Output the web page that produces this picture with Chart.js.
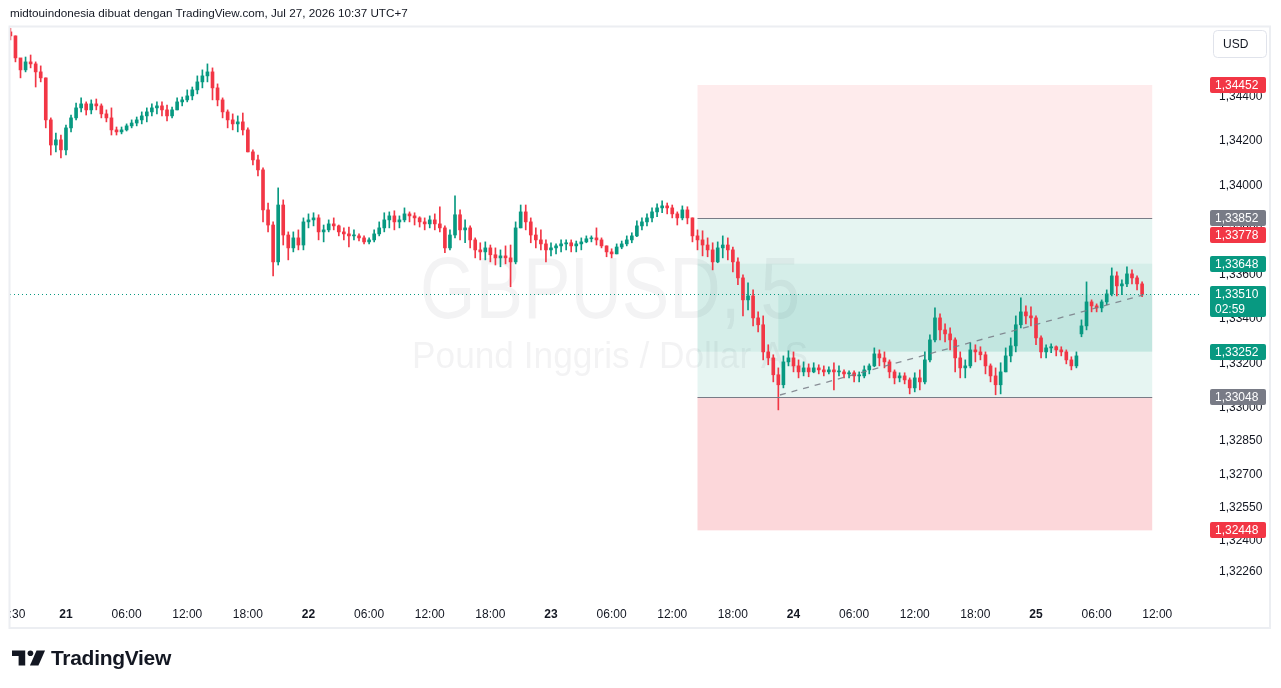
<!DOCTYPE html>
<html>
<head>
<meta charset="utf-8">
<script src="https://cdn.jsdelivr.net/npm/chart.js@4.4.1/dist/chart.umd.min.js"></script>
<style>
html,body{margin:0;padding:0;background:#fff;width:1281px;height:688px;overflow:hidden;font-family:'Liberation Sans',Arial,sans-serif;}
#wrap{position:absolute;left:0;top:0;width:1281px;height:688px;}
#header{position:absolute;left:10px;top:6px;font-size:11.7px;color:#131722;white-space:nowrap;}
#logo{position:absolute;left:12px;top:647px;display:flex;align-items:center;height:22px;}
#logo span{font-weight:bold;font-size:21px;color:#131722;margin-left:5px;letter-spacing:-0.3px;}
</style>
</head>
<body>
<div id="wrap"><canvas id="c" width="1281" height="688"></canvas></div>
<div id="header">midtouindonesia dibuat dengan TradingView.com, Jul 27, 2026 10:37 UTC+7</div>
<div id="logo"><svg width="34" height="16" viewBox="0 0 36 16"><path d="M0 0H14V16H7V6H0Z" fill="#131722"/><circle cx="19.5" cy="3" r="3" fill="#131722"/><path d="M26 0H35L28 16H19Z" fill="#131722"/></svg><span>TradingView</span></div>
<script>
// ---- data: GBPUSD, 30-minute candles (hours from 21 Jul 00:00) ----
const firstCandleHour = -5.5;
const candleStepHours = 0.5;

const opens = [1.34691,1.34673,1.34574,1.34520,1.34556,1.34547,1.34511,1.34484,1.34295,1.34182,
1.34205,1.34160,1.34259,1.34304,1.34349,1.34367,1.34340,1.34367,1.34358,1.34322,
1.34304,1.34250,1.34241,1.34250,1.34268,1.34281,1.34295,1.34313,1.34331,1.34349,
1.34358,1.34340,1.34313,1.34340,1.34376,1.34385,1.34403,1.34430,1.34466,1.34493,
1.34511,1.34439,1.34385,1.34331,1.34295,1.34277,1.34286,1.34250,1.34151,1.34115,
1.34070,1.33890,1.33822,1.33656,1.33912,1.33777,1.33719,1.33764,1.33732,1.33836,
1.33845,1.33854,1.33791,1.33800,1.33827,1.33818,1.33791,1.33782,1.33773,1.33773,
1.33764,1.33746,1.33755,1.33782,1.33809,1.33845,1.33863,1.33836,1.33845,1.33872,
1.33863,1.33854,1.33836,1.33827,1.33845,1.33827,1.33809,1.33719,1.33777,1.33868,
1.33800,1.33809,1.33755,1.33710,1.33701,1.33719,1.33688,1.33674,1.33683,1.33674,
1.33656,1.33809,1.33881,1.33836,1.33777,1.33755,1.33737,1.33710,1.33719,1.33728,
1.33737,1.33742,1.33728,1.33737,1.33746,1.33760,1.33764,1.33755,1.33728,1.33701,
1.33692,1.33723,1.33737,1.33755,1.33773,1.33818,1.33836,1.33854,1.33881,1.33899,
1.33908,1.33899,1.33872,1.33854,1.33890,1.33854,1.33773,1.33755,1.33732,1.33710,
1.33656,1.33719,1.33732,1.33710,1.33656,1.33584,1.33485,1.33503,1.33404,1.33373,
1.33251,1.33224,1.33148,1.33103,1.33206,1.33224,1.33188,1.33161,1.33179,1.33161,
1.33179,1.33170,1.33161,1.33170,1.33161,1.33161,1.33152,1.33157,1.33143,1.33143,
1.33170,1.33188,1.33242,1.33224,1.33206,1.33161,1.33134,1.33143,1.33125,1.33089,
1.33134,1.33116,1.33215,1.33305,1.33404,1.33350,1.33332,1.33305,1.33224,1.33179,
1.33188,1.33260,1.33251,1.33238,1.33188,1.33143,1.33103,1.33161,1.33233,1.33278,
1.33373,1.33431,1.33413,1.33404,1.33314,1.33251,1.33269,1.33274,1.33260,1.33251,
1.33215,1.33188,1.33332,1.33368,1.33476,1.33458,1.33449,1.33476,1.33512,1.33593,
1.33548,1.33557,1.33602,1.33584,1.33557];

const highs = [1.34709,1.34673,1.34565,1.34578,1.34587,1.34556,1.34538,1.34484,1.34304,1.34236,
1.34227,1.34272,1.34317,1.34371,1.34394,1.34376,1.34385,1.34389,1.34367,1.34340,
1.34349,1.34263,1.34263,1.34277,1.34295,1.34308,1.34331,1.34349,1.34367,1.34376,
1.34376,1.34362,1.34353,1.34394,1.34398,1.34430,1.34443,1.34493,1.34520,1.34547,
1.34529,1.34457,1.34394,1.34340,1.34322,1.34313,1.34326,1.34259,1.34160,1.34137,
1.34079,1.33921,1.33836,1.33989,1.33935,1.33791,1.33791,1.33800,1.33854,1.33872,
1.33877,1.33868,1.33822,1.33845,1.33854,1.33822,1.33809,1.33813,1.33800,1.33782,
1.33773,1.33764,1.33800,1.33836,1.33877,1.33881,1.33886,1.33863,1.33899,1.33881,
1.33877,1.33859,1.33854,1.33863,1.33872,1.33904,1.33818,1.33800,1.33953,1.33890,
1.33845,1.33818,1.33764,1.33742,1.33746,1.33732,1.33719,1.33710,1.33728,1.33732,
1.33836,1.33912,1.33912,1.33854,1.33809,1.33800,1.33755,1.33742,1.33737,1.33755,
1.33755,1.33755,1.33750,1.33764,1.33773,1.33773,1.33809,1.33764,1.33728,1.33715,
1.33737,1.33750,1.33773,1.33787,1.33841,1.33854,1.33872,1.33899,1.33917,1.33931,
1.33921,1.33912,1.33881,1.33908,1.33904,1.33854,1.33800,1.33796,1.33764,1.33742,
1.33746,1.33773,1.33764,1.33723,1.33674,1.33598,1.33562,1.33530,1.33431,1.33413,
1.33283,1.33238,1.33179,1.33233,1.33256,1.33251,1.33215,1.33206,1.33197,1.33202,
1.33193,1.33188,1.33184,1.33202,1.33188,1.33170,1.33166,1.33166,1.33161,1.33188,
1.33197,1.33269,1.33260,1.33251,1.33215,1.33170,1.33157,1.33157,1.33134,1.33157,
1.33170,1.33251,1.33328,1.33449,1.33422,1.33377,1.33359,1.33314,1.33251,1.33215,
1.33292,1.33283,1.33274,1.33251,1.33197,1.33179,1.33202,1.33269,1.33314,1.33413,
1.33494,1.33458,1.33454,1.33413,1.33323,1.33283,1.33287,1.33278,1.33274,1.33260,
1.33229,1.33251,1.33395,1.33566,1.33485,1.33467,1.33485,1.33530,1.33629,1.33611,
1.33575,1.33634,1.33620,1.33593,1.33566];

const lows = [1.34655,1.34556,1.34484,1.34511,1.34529,1.34443,1.34466,1.34259,1.34137,1.34151,
1.34124,1.34137,1.34241,1.34295,1.34331,1.34317,1.34322,1.34340,1.34304,1.34286,
1.34227,1.34227,1.34232,1.34245,1.34259,1.34268,1.34277,1.34286,1.34313,1.34322,
1.34313,1.34290,1.34304,1.34340,1.34358,1.34376,1.34385,1.34412,1.34439,1.34466,
1.34385,1.34358,1.34304,1.34259,1.34250,1.34241,1.34227,1.34151,1.34092,1.34043,
1.33836,1.33791,1.33593,1.33642,1.33732,1.33665,1.33701,1.33710,1.33710,1.33809,
1.33818,1.33755,1.33746,1.33791,1.33800,1.33773,1.33755,1.33723,1.33755,1.33750,
1.33737,1.33737,1.33746,1.33773,1.33791,1.33809,1.33800,1.33809,1.33836,1.33836,
1.33822,1.33813,1.33800,1.33809,1.33800,1.33791,1.33697,1.33710,1.33764,1.33755,
1.33742,1.33719,1.33674,1.33665,1.33665,1.33656,1.33642,1.33634,1.33647,1.33544,
1.33647,1.33809,1.33800,1.33742,1.33719,1.33710,1.33656,1.33683,1.33692,1.33701,
1.33710,1.33701,1.33701,1.33710,1.33742,1.33746,1.33732,1.33719,1.33679,1.33674,
1.33692,1.33715,1.33728,1.33742,1.33769,1.33800,1.33818,1.33836,1.33859,1.33877,
1.33872,1.33854,1.33822,1.33845,1.33827,1.33746,1.33710,1.33683,1.33679,1.33620,
1.33652,1.33674,1.33665,1.33611,1.33553,1.33413,1.33440,1.33368,1.33341,1.33215,
1.33193,1.33116,1.32990,1.33089,1.33188,1.33161,1.33134,1.33143,1.33139,1.33157,
1.33152,1.33143,1.33152,1.33080,1.33143,1.33134,1.33134,1.33116,1.33116,1.33134,
1.33152,1.33184,1.33188,1.33179,1.33134,1.33107,1.33116,1.33107,1.33062,1.33071,
1.33080,1.33107,1.33206,1.33296,1.33305,1.33296,1.33260,1.33161,1.33134,1.33134,
1.33179,1.33206,1.33215,1.33152,1.33116,1.33058,1.33062,1.33161,1.33206,1.33251,
1.33359,1.33377,1.33368,1.33283,1.33224,1.33224,1.33247,1.33233,1.33233,1.33197,
1.33170,1.33179,1.33319,1.33350,1.33431,1.33431,1.33431,1.33463,1.33503,1.33503,
1.33508,1.33544,1.33557,1.33530,1.33499];

const closes = [1.34673,1.34574,1.34520,1.34556,1.34547,1.34511,1.34484,1.34295,1.34182,1.34205,
1.34160,1.34259,1.34304,1.34349,1.34367,1.34340,1.34367,1.34358,1.34322,1.34304,
1.34250,1.34241,1.34250,1.34268,1.34281,1.34295,1.34313,1.34331,1.34349,1.34358,
1.34340,1.34313,1.34340,1.34376,1.34385,1.34403,1.34430,1.34466,1.34493,1.34511,
1.34439,1.34385,1.34331,1.34295,1.34277,1.34286,1.34250,1.34151,1.34115,1.34070,
1.33890,1.33822,1.33656,1.33912,1.33777,1.33719,1.33764,1.33732,1.33836,1.33845,
1.33854,1.33791,1.33800,1.33827,1.33818,1.33791,1.33782,1.33773,1.33773,1.33764,
1.33746,1.33755,1.33782,1.33809,1.33845,1.33863,1.33836,1.33845,1.33872,1.33863,
1.33854,1.33836,1.33827,1.33845,1.33827,1.33809,1.33719,1.33777,1.33868,1.33800,
1.33809,1.33755,1.33710,1.33701,1.33719,1.33688,1.33674,1.33683,1.33674,1.33656,
1.33809,1.33881,1.33836,1.33777,1.33755,1.33737,1.33710,1.33719,1.33728,1.33737,
1.33742,1.33728,1.33737,1.33746,1.33760,1.33764,1.33755,1.33728,1.33701,1.33692,
1.33723,1.33737,1.33755,1.33773,1.33818,1.33836,1.33854,1.33881,1.33899,1.33908,
1.33899,1.33872,1.33854,1.33890,1.33854,1.33773,1.33755,1.33732,1.33710,1.33656,
1.33719,1.33732,1.33710,1.33656,1.33584,1.33485,1.33503,1.33404,1.33373,1.33251,
1.33224,1.33148,1.33103,1.33206,1.33224,1.33188,1.33161,1.33179,1.33161,1.33179,
1.33170,1.33161,1.33170,1.33161,1.33161,1.33152,1.33157,1.33143,1.33143,1.33170,
1.33188,1.33242,1.33224,1.33206,1.33161,1.33134,1.33143,1.33125,1.33089,1.33134,
1.33116,1.33215,1.33305,1.33404,1.33350,1.33332,1.33305,1.33224,1.33179,1.33188,
1.33260,1.33251,1.33238,1.33188,1.33143,1.33103,1.33161,1.33233,1.33278,1.33373,
1.33431,1.33413,1.33404,1.33314,1.33251,1.33269,1.33274,1.33260,1.33251,1.33215,
1.33188,1.33233,1.33368,1.33476,1.33458,1.33449,1.33476,1.33512,1.33593,1.33548,
1.33557,1.33602,1.33584,1.33557,1.33510];

// price axis ticks (TradingView-style) and time axis ticks
const priceTicks = [1.344, 1.342, 1.340, 1.338, 1.336, 1.334, 1.332, 1.330, 1.3285, 1.327, 1.3255, 1.324, 1.3226];
const timeTickHours  = [-5.5, 0, 6, 12, 18, 24, 30, 36, 42, 48, 54, 60, 66, 72, 78, 84, 90, 96, 102, 108];
const timeTickLabels = ['18:30','21','06:00','12:00','18:00','22','06:00','12:00','18:00','23','06:00','12:00','18:00','24','06:00','12:00','18:00','25','06:00','12:00'];

// position-tool zones (hours, prices)
const zoneFromHour   = [62.5, 62.5, 62.5, 70.5, 62.5];
const zoneToHour     = [107.5, 107.5, 107.5, 107.5, 107.5];
const zoneTopPrice   = [1.34452, 1.33852, 1.33648, 1.33510, 1.33048];
const zoneBottomPrice= [1.33852, 1.33048, 1.33252, 1.33252, 1.32448];
const levelLinePrices = [1.33852, 1.33048];
// dashed trend line: [hour, price] start and end
const trendStart = [70.66, 1.33057];
const trendEnd   = [106.6, 1.33507];
// right-axis price markers
const markerPrices = [1.34452, 1.33852, 1.33778, 1.33648, 1.33510, 1.33252, 1.33048, 1.32448];
const lastPrice = 1.33510;
const countdown = '02:59';

// ---- styling ----
const UP = '#089981', DOWN = '#f23645', GRAY = '#787b86';
const FONT = "'Liberation Sans', Arial, sans-serif";
const zoneFills = ['rgba(242,54,69,0.10)','rgba(8,153,129,0.10)','rgba(8,153,129,0.08)','rgba(8,153,129,0.09)','rgba(242,54,69,0.20)'];
const markerColors = [DOWN, GRAY, DOWN, UP, UP, UP, GRAY, DOWN];
const xMinHour = -5.54, xMaxHour = 112.23;
const yMin = 1.321435, yMax = 1.347085;

const hourOf = i => firstCandleHour + i * candleStepHours;
const candleColors = closes.map((c, i) => c >= opens[i] ? UP : DOWN);
const fmt = v => v.toFixed(5).replace('.', ',');

const overlay = {
  id: 'overlay',
  beforeDatasetsDraw(chart) {
    const {ctx, chartArea: a, scales: {x, y}} = chart;
    ctx.save();
    ctx.beginPath(); ctx.rect(a.left, a.top, a.right - a.left, a.bottom - a.top); ctx.clip();
    for (let i = 0; i < zoneFromHour.length; i++) {
      const x0 = x.getPixelForValue(zoneFromHour[i]), x1 = x.getPixelForValue(zoneToHour[i]);
      const y0 = y.getPixelForValue(zoneTopPrice[i]), y1 = y.getPixelForValue(zoneBottomPrice[i]);
      ctx.fillStyle = zoneFills[i];
      ctx.fillRect(x0, y0, x1 - x0, y1 - y0);
    }
    const cx = (a.left + a.right) / 2 + 5;
    ctx.fillStyle = 'rgba(19,23,34,0.05)';
    ctx.textAlign = 'center'; ctx.textBaseline = 'alphabetic';
    ctx.font = '88px ' + FONT;
    ctx.fillText('GBPUSD, 5', cx, 318, 380);
    ctx.font = '36px ' + FONT;
    ctx.fillText('Pound Inggris / Dollar AS', cx, 368, 396);
    ctx.restore();
  },
  afterDatasetsDraw(chart) {
    const {ctx, chartArea: a, scales: {x, y}} = chart;
    ctx.save();
    ctx.beginPath(); ctx.rect(a.left, a.top, a.right - a.left, a.bottom - a.top); ctx.clip();
    // level lines
    ctx.strokeStyle = GRAY; ctx.lineWidth = 1.2;
    levelLinePrices.forEach(p => {
      const yy = Math.round(y.getPixelForValue(p)) + 0.5;
      ctx.beginPath();
      ctx.moveTo(x.getPixelForValue(zoneFromHour[0]), yy);
      ctx.lineTo(x.getPixelForValue(zoneToHour[0]), yy);
      ctx.stroke();
    });
    // trend line
    ctx.strokeStyle = 'rgba(120,123,134,0.85)'; ctx.lineWidth = 1.3; ctx.setLineDash([6, 6]);
    ctx.beginPath();
    ctx.moveTo(x.getPixelForValue(trendStart[0]), y.getPixelForValue(trendStart[1]));
    ctx.lineTo(x.getPixelForValue(trendEnd[0]), y.getPixelForValue(trendEnd[1]));
    ctx.stroke();
    // last price dotted line
    ctx.strokeStyle = UP; ctx.lineWidth = 1; ctx.setLineDash([1, 3]);
    const ly = Math.round(y.getPixelForValue(lastPrice)) + 0.5;
    ctx.beginPath(); ctx.moveTo(a.left, ly); ctx.lineTo(a.right, ly); ctx.stroke();
    ctx.restore();
  },
  afterDraw(chart) {
    const {ctx, chartArea: a, scales: {y}} = chart;
    ctx.save();
    // clip the cut-off first time label at the pane edge
    ctx.fillStyle = '#fff';
    ctx.fillRect(0, a.bottom, a.left - 0.5, 30);
    // frame
    ctx.strokeStyle = '#eceef2'; ctx.lineWidth = 2;
    ctx.strokeRect(a.left - 0.5, a.top - 1.5, 1270 - a.left + 0.5, 628 - a.top + 1.5);
    // price markers
    ctx.font = '12px ' + FONT; ctx.textAlign = 'left'; ctx.textBaseline = 'middle';
    markerPrices.forEach((p, i) => {
      const yy = y.getPixelForValue(p);
      const isLast = p === lastPrice;
      const h = isLast ? 31 : 16;
      ctx.fillStyle = markerColors[i];
      ctx.beginPath(); ctx.roundRect(a.right + 10, Math.round(yy) - 8, 56, h, 2); ctx.fill();
      ctx.fillStyle = '#fff';
      ctx.fillText(fmt(p), a.right + 15, Math.round(yy) + 0.5);
      if (isLast) ctx.fillText(countdown, a.right + 15, Math.round(yy) + 15.5);
    });
    // currency button
    ctx.strokeStyle = '#e0e3eb'; ctx.lineWidth = 1;
    ctx.beginPath(); ctx.roundRect(1213.5, 30.5, 53, 27, 4); ctx.stroke();
    ctx.fillStyle = '#131722'; ctx.font = '12px ' + FONT;
    ctx.fillText('USD', 1223, 44.5);
    ctx.restore();
  }
};

new Chart(document.getElementById('c'), {
  type: 'bar',
  data: {
    datasets: [
      {
        label: 'body',
        data: opens.map((o, i) => ({x: hourOf(i), y: [o, closes[i]]})),
        backgroundColor: candleColors,
        barThickness: 3, minBarLength: 1, grouped: false, borderWidth: 0, order: 1
      },
      {
        label: 'wick',
        data: lows.map((l, i) => ({x: hourOf(i), y: [l, highs[i]]})),
        backgroundColor: candleColors,
        barThickness: 1, grouped: false, borderWidth: 0, order: 2
      }
    ]
  },
  options: {
    responsive: false, animation: false,
    layout: {padding: {left: 10, top: 28, right: 11, bottom: 60}},
    plugins: {legend: {display: false}, tooltip: {enabled: false}},
    scales: {
      x: {
        type: 'linear', min: xMinHour, max: xMaxHour, offset: false,
        grid: {display: false, drawTicks: false}, border: {display: false},
        afterBuildTicks: s => { s.ticks = timeTickHours.map(v => ({value: v})); },
        afterFit: s => { s.height = 30; s.paddingLeft = 0; s.paddingRight = 0; },
        ticks: {
          autoSkip: false, maxRotation: 0, padding: 9, color: '#131722',
          font: c => ({family: FONT, size: 12, weight: /^\d\d$/.test(timeTickLabels[c.index] || '') ? 'bold' : 'normal'}),
          callback: (v, i) => timeTickLabels[i]
        }
      },
      y: {
        type: 'linear', position: 'right', min: yMin, max: yMax,
        grid: {display: false, drawTicks: false}, border: {display: false},
        afterBuildTicks: s => { s.ticks = priceTicks.map(v => ({value: v})); },
        afterFit: s => { s.width = 70; s.paddingTop = 0; s.paddingBottom = 0; },
        ticks: {padding: 19, color: '#131722', font: {family: FONT, size: 12}, callback: v => fmt(v)}
      }
    }
  },
  plugins: [overlay]
});
</script>
</body>
</html>
